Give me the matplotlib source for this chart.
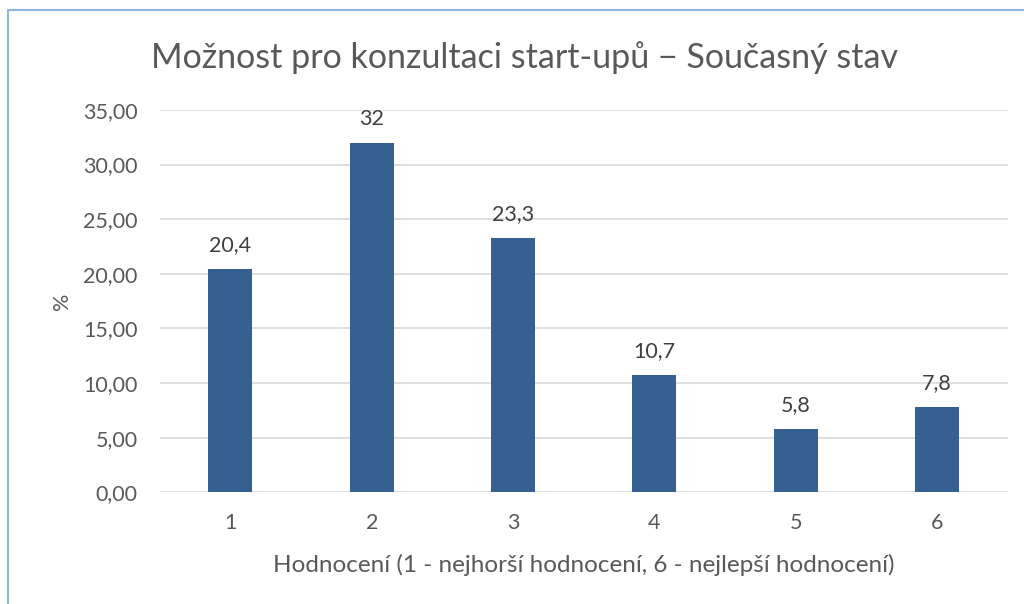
import matplotlib.pyplot as plt
from matplotlib.patches import Rectangle
from matplotlib.ticker import FuncFormatter

# Hodnoceni 1-6 a procenta odpovedi
categories = ['1', '2', '3', '4', '5', '6']
values = [20.4, 32, 23.3, 10.7, 5.8, 7.8]
labels = ['20,4', '32', '23,3', '10,7', '5,8', '7,8']

plt.rcParams['font.family'] = ['Lato', 'DejaVu Sans']
txt = '#595959'

fig = plt.figure(figsize=(10.24, 6.04), dpi=100)
ax = fig.add_axes([0.156, 0.185, 0.828, 0.633])

# ramecek grafu
fig.patches.append(Rectangle((8 / 1024, -0.1), 1.2, 1 - 10 / 604 + 0.1,
                             transform=fig.transFigure, fill=False,
                             edgecolor='#8eb4e3', linewidth=1.5))

x = range(len(categories))
bars = ax.bar(x, values, width=0.31, color='#366092', zorder=3)
for b, lab in zip(bars, labels):
    ax.annotate(lab, (b.get_x() + b.get_width() / 2, b.get_height()),
                xytext=(0, 10), textcoords='offset points',
                ha='center', va='bottom', fontsize=15.5, color='#404040')

ax.set_xlim(-0.5, 5.5)
ax.set_ylim(0, 35)
ax.set_yticks(range(0, 36, 5))
ax.yaxis.set_major_formatter(FuncFormatter(lambda v, p: f'{v:.2f}'.replace('.', ',')))
ax.set_xticks(list(x))
ax.set_xticklabels(categories)
ax.grid(axis='y', color='#d9d9d9', linewidth=1.2, zorder=0)
for s in ax.spines.values():
    s.set_visible(False)
ax.tick_params(length=0, labelsize=15.5, colors=txt)
ax.tick_params(axis='y', pad=16)
ax.tick_params(axis='x', pad=15)

ax.set_ylabel('%', fontsize=15.5, color=txt, labelpad=8)
ax.set_xlabel('Hodnocení (1 - nejhorší hodnocení, 6 - nejlepší hodnocení)',
              fontsize=17.5, color=txt, labelpad=15)
fig.text(0.512, 0.905, 'Možnost pro konzultaci start-upů − Současný stav',
         ha='center', va='center', fontsize=24.5, color=txt)

fig.savefig('out.png', dpi=100)
